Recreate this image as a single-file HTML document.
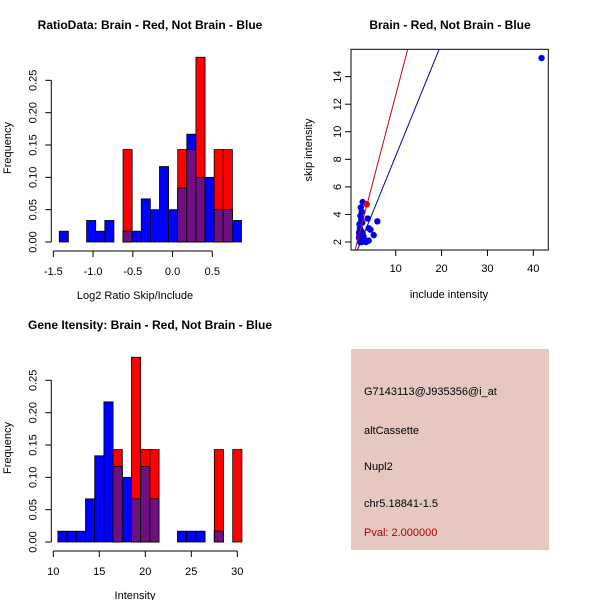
<!DOCTYPE html>
<html><head><meta charset="utf-8">
<style>
html,body{margin:0;padding:0;background:#fff;}
svg{display:block;font-family:"Liberation Sans",Arial,sans-serif;}
</style></head>
<body>
<svg id="c" width="600" height="600" viewBox="0 0 600 600" xmlns="http://www.w3.org/2000/svg"></svg>
<script>
// ---- Ratio histogram data ----
const ratioStart = -1.425;
const ratioBinWidth = 0.1146;
const ratioBlue = [0.0167,0,0,0.0333,0.0167,0.0333,0,0.0167,0.0167,0.0667,0.05,0.1167,0.05,0.0833,0.1667,0.1,0.1,0.05,0.05,0.0333];
const ratioRed  = [0,0,0,0,0,0,0,0.1429,0,0,0,0,0,0.1429,0.1429,0.2857,0,0.1429,0.1429,0];
const ratioXTicks = [-1.5,-1.0,-0.5,0.0,0.5];
const ratioXTickLabels = ["-1.5","-1.0","-0.5","0.0","0.5"];
const freqTicks = [0,0.05,0.10,0.15,0.20,0.25];
const freqTickLabels = ["0.00","0.05","0.10","0.15","0.20","0.25"];
// ---- Intensity histogram data ----
const intStart = 10.5;
const intBinWidth = 1;
const intBlue = [0.0167,0.0167,0.0167,0.0667,0.1333,0.2167,0.1167,0.1,0.0667,0.1167,0.0667,0,0,0.0167,0.0167,0.0167,0,0.0167,0,0];
const intRed  = [0,0,0,0,0,0,0.1429,0,0.2857,0.1429,0.1429,0,0,0,0,0,0,0.1429,0,0.1429];
const intXTicks = [10,15,20,25,30];
const intXTickLabels = ["10","15","20","25","30"];
// ---- Scatter data ----
const blueIncl = [2.8,2.4,2.6,2.3,2.5,2.1,2.2,2.0,2.1,2.0,2.3,2.6,3.0,3.5,4.1,3.9,4.1,4.5,5.2,6.0,2.8,2.5,3.0,2.2,2.7,41.8];
const blueSkip = [4.9,4.5,4.2,3.9,3.6,3.3,3.0,2.7,2.5,2.3,2.1,2.0,2.2,2.0,2.1,3.7,3.0,2.9,2.5,3.5,2.6,2.8,2.4,2.0,3.4,15.35];
const redIncl = [3.68];
const redSkip = [4.74];
const redLine = [-0.04, 1.27];   // intercept, slope
const blueLine = [0.07, 0.817];
const scXTicks = [10,20,30,40];
const scXTickLabels = ["10","20","30","40"];
const scYTicks = [2,4,6,8,10,12,14];
const scYTickLabels = ["2","4","6","8","10","12","14"];

const NS="http://www.w3.org/2000/svg";
const svg=document.getElementById('c');
function el(tag,attrs,parent){const e=document.createElementNS(NS,tag);for(const k in attrs)e.setAttribute(k,attrs[k]);(parent||svg).appendChild(e);return e;}
function txt(s,attrs,parent){const e=el('text',attrs,parent);e.textContent=s;return e;}

function hist(g, cfg){
  const xs=v=>cfg.x0+(v-cfg.xv0)*cfg.xk;
  const ys=v=>cfg.y0-v*cfg.yk;
  for(let i=0;i<cfg.blue.length;i++){
    const l=xs(cfg.start+i*cfg.bw), r=xs(cfg.start+(i+1)*cfg.bw);
    const b=cfg.blue[i], rd=cfg.red[i];
    if(rd>0){const e=el('rect',{x:l,y:ys(rd),width:r-l,height:ys(0)-ys(rd),fill:'#ff0000',stroke:'#000','stroke-width':0.8},g);
      }
    if(b>0){const e=el('rect',{x:l,y:ys(b),width:r-l,height:ys(0)-ys(b),fill:'#0000ff',stroke:'#000','stroke-width':0.8},g);
      }
    const m=Math.min(b,rd);
    if(m>0){const e=el('rect',{x:l,y:ys(m),width:r-l,height:ys(0)-ys(m),fill:'#6f0f80',stroke:'#000','stroke-width':0.8},g);
      }
  }
  const xa=el('g',{},g);
  
  const ay=cfg.y0+9;
  el('line',{x1:xs(cfg.xticks[0]),x2:xs(cfg.xticks[cfg.xticks.length-1]),y1:ay,y2:ay,stroke:'#000'},xa);
  cfg.xticks.forEach((t,i)=>{el('line',{x1:xs(t),x2:xs(t),y1:ay,y2:ay+6,stroke:'#000'},xa);
    txt(cfg.xlabels[i],{x:xs(t),y:ay+24,'font-size':11,'text-anchor':'middle'},xa);});
  const ya=el('g',{},g);
  
  const ax=cfg.x0-2;
  el('line',{x1:ax,x2:ax,y1:ys(freqTicks[0]),y2:ys(freqTicks[freqTicks.length-1]),stroke:'#000'},ya);
  freqTicks.forEach((t,i)=>{el('line',{x1:ax,x2:ax-6,y1:ys(t),y2:ys(t),stroke:'#000'},ya);
    txt(freqTickLabels[i],{x:ax-15,y:ys(t),'font-size':11,'text-anchor':'middle',transform:`rotate(-90 ${ax-15} ${ys(t)})`},ya);});
  const t1=txt(cfg.title,{x:150,y:cfg.titleY,'font-size':12,'font-weight':'bold','text-anchor':'middle'},g);
  
  const xl=txt(cfg.xtitle,{x:135,y:cfg.y0+57,'font-size':11,'text-anchor':'middle'},g);
  
  const yl=txt('Frequency',{x:11,y:cfg.y0-94,'font-size':11,'text-anchor':'middle',transform:`rotate(-90 11 ${cfg.y0-94})`},g);
  
}

const g1=el('g',{});

hist(g1,{x0:53.3,xv0:-1.5,xk:79.5,y0:242,yk:646.7,start:ratioStart,bw:ratioBinWidth,blue:ratioBlue,red:ratioRed,
  xticks:ratioXTicks,xlabels:ratioXTickLabels,title:'RatioData: Brain - Red, Not Brain - Blue',titleY:29,xtitle:'Log2 Ratio Skip/Include'});
const g2=el('g',{});

hist(g2,{x0:53.3,xv0:10,xk:9.2,y0:542,yk:646.7,start:intStart,bw:intBinWidth,blue:intBlue,red:intRed,
  xticks:intXTicks,xlabels:intXTickLabels,title:'Gene Itensity: Brain - Red, Not Brain - Blue',titleY:329,xtitle:'Intensity'});

// ---- Scatter ----
const g3=el('g',{});

const sx=v=>395.7+(v-10)*4.587;
const sy=v=>242-(v-2)*13.78;
const L=351,R=548.3,T=49.3,B=250;
const clip=el('clipPath',{id:'sc'},g3);el('rect',{x:L,y:T,width:R-L,height:B-T},clip);
const pts=el('g',{'clip-path':'url(#sc)'},g3);
function fitLine(p,color,name){
  const xa=0, xb=60;
  const e=el('line',{x1:sx(xa),y1:sy(p[0]+p[1]*xa),x2:sx(xb),y2:sy(p[0]+p[1]*xb),stroke:color,'stroke-width':1},pts);
  
}
blueIncl.forEach((v,i)=>{const c=el('circle',{cx:sx(v),cy:sy(blueSkip[i]),r:3.2,fill:'#0000ee'},pts);
  });
redIncl.forEach((v,i)=>{const c=el('circle',{cx:sx(v),cy:sy(redSkip[i]),r:3.2,fill:'#ee0000'},pts);
  });
fitLine(redLine,'#cc0000','red-fit-line');
fitLine(blueLine,'#0000aa','blue-fit-line');
el('rect',{x:L,y:T,width:R-L,height:B-T,fill:'none',stroke:'#000'},g3);
const sxa=el('g',{},g3);
scXTicks.forEach((t,i)=>{el('line',{x1:sx(t),x2:sx(t),y1:B,y2:B+6,stroke:'#000'},sxa);
  txt(scXTickLabels[i],{x:sx(t),y:B+22,'font-size':11,'text-anchor':'middle'},sxa);});
const sya=el('g',{},g3);
scYTicks.forEach((t,i)=>{el('line',{x1:L,x2:L-6,y1:sy(t),y2:sy(t),stroke:'#000'},sya);
  txt(scYTickLabels[i],{x:L-10,y:sy(t),'font-size':11,'text-anchor':'middle',transform:`rotate(-90 ${L-10} ${sy(t)})`},sya);});
const st=txt('Brain - Red, Not Brain - Blue',{x:450,y:29,'font-size':12,'font-weight':'bold','text-anchor':'middle'},g3);

const sxl=txt('include intensity',{x:449,y:298,'font-size':11,'text-anchor':'middle'},g3);

const syl=txt('skip intensity',{x:312,y:150,'font-size':11,'text-anchor':'middle',transform:'rotate(-90 312 150)'},g3);


// ---- Info box ----
const g4=el('g',{});

el('rect',{x:351,y:349,width:198,height:201,fill:'#e6c8c1'},g4);
const lines=[['G7143113@J935356@i_at',395,'#000','probe-id'],['altCassette',434,'#000','event-type'],['Nupl2',470,'#000','gene-name'],['chr5.18841-1.5',507,'#000','location'],['Pval: 2.000000',536,'#aa0000','p-value']];
lines.forEach(l=>{const t=txt(l[0],{x:364,y:l[1],'font-size':11,fill:l[2]},g4);
  });
</script>
</body></html>
